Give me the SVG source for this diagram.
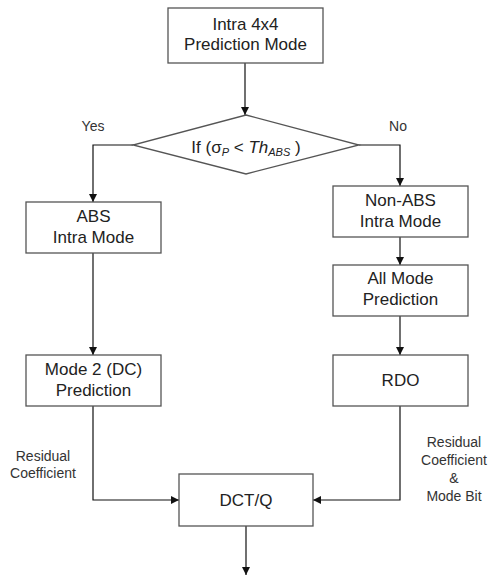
<svg xmlns="http://www.w3.org/2000/svg" width="491" height="575" viewBox="0 0 491 575">
<style>
.box{fill:#fff;stroke:#555;stroke-width:1.3}
.t{font-family:"Liberation Sans",Arial,sans-serif;font-size:17px;fill:#222;text-anchor:middle}
.l{font-family:"Liberation Sans",Arial,sans-serif;font-size:14px;fill:#333;text-anchor:middle}
.c{fill:none;stroke:#111;stroke-width:1.2}
</style>
<defs>
<marker id="a" viewBox="0 0 10 10" refX="10" refY="5" markerWidth="8" markerHeight="8" markerUnits="userSpaceOnUse" orient="auto">
<path d="M0,0 L10,5 L0,10 z" fill="#111"/>
</marker>
</defs>
<rect width="491" height="575" fill="#fff"/>
<g id="connectors">
<path class="c" d="M245,63 V115" marker-end="url(#a)"/>
<path class="c" d="M133,145 H93 V202" marker-end="url(#a)"/>
<path class="c" d="M359,145 H400 V186" marker-end="url(#a)"/>
<path class="c" d="M400,237 V265" marker-end="url(#a)"/>
<path class="c" d="M93,253 V355" marker-end="url(#a)"/>
<path class="c" d="M400,316 V355" marker-end="url(#a)"/>
<path class="c" d="M93,406 V500 H179" marker-end="url(#a)"/>
<path class="c" d="M400,406 V500 H313" marker-end="url(#a)"/>
<path class="c" d="M246,526 V575" marker-end="url(#a)"/>
</g>
<g id="n1"><rect class="box" x="168" y="8" width="155" height="55"/><text class="t" x="245.5" y="30">Intra 4x4</text><text class="t" x="245.5" y="50">Prediction Mode</text></g>
<g id="n2"><path class="box" d="M246,115 L359,145 L246,174 L133,145 Z"/><text class="t" x="246" y="153">If (σ<tspan font-size="11" dy="3" font-style="italic">P</tspan><tspan dy="-3"> &lt; </tspan><tspan font-style="italic">Th</tspan><tspan font-size="11" font-style="italic" dy="3">ABS</tspan><tspan dy="-3"> )</tspan></text></g>
<g id="n3"><rect class="box" x="26" y="202" width="135" height="51"/><text class="t" x="93.5" y="222">ABS</text><text class="t" x="93.5" y="243">Intra Mode</text></g>
<g id="n4"><rect class="box" x="333" y="186" width="135" height="51"/><text class="t" x="400.5" y="206">Non-ABS</text><text class="t" x="400.5" y="227">Intra Mode</text></g>
<g id="n5"><rect class="box" x="333" y="265" width="135" height="51"/><text class="t" x="400.5" y="284">All Mode</text><text class="t" x="400.5" y="305">Prediction</text></g>
<g id="n6"><rect class="box" x="26" y="355" width="135" height="51"/><text class="t" x="93.5" y="375">Mode 2 (DC)</text><text class="t" x="93.5" y="396">Prediction</text></g>
<g id="n7"><rect class="box" x="333" y="355" width="135" height="51"/><text class="t" x="400.5" y="386">RDO</text></g>
<g id="n8"><rect class="box" x="179" y="474" width="134" height="52"/><text class="t" x="246" y="506">DCT/Q</text></g>
<g id="labels">
<text class="l" x="93" y="131">Yes</text>
<text class="l" x="398" y="131">No</text>
<text class="l" x="43" y="461">Residual</text>
<text class="l" x="43" y="478">Coefficient</text>
<text class="l" x="454" y="447">Residual</text>
<text class="l" x="454" y="465">Coefficient</text>
<text class="l" x="454" y="483">&amp;</text>
<text class="l" x="454" y="501">Mode Bit</text>
</g>
</svg>
